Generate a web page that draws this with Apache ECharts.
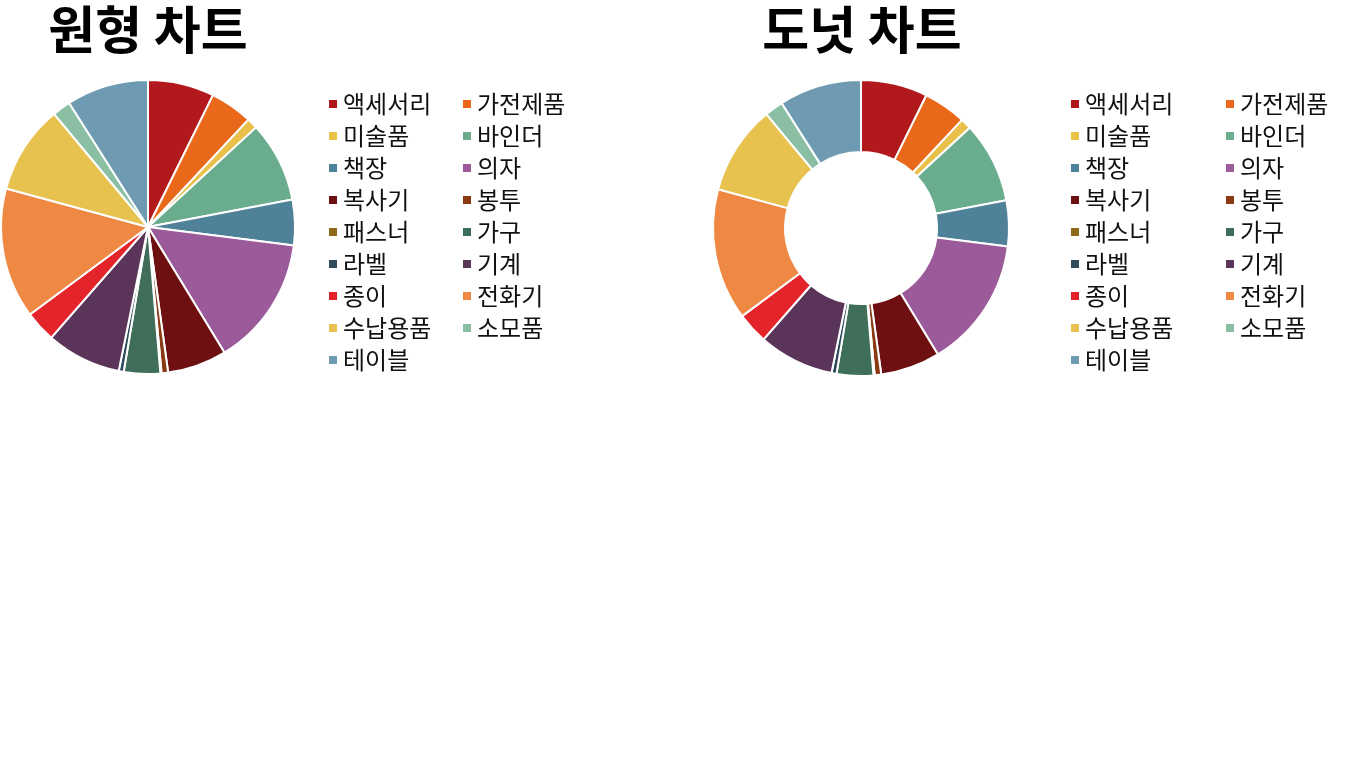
<!DOCTYPE html>
<html>
<head>
<meta charset="utf-8">
<title>원형 차트 / 도넛 차트</title>
<script src="https://cdn.jsdelivr.net/npm/echarts@6/dist/echarts.min.js"></script>
<style>
  html, body { margin: 0; padding: 0; background: #fff; }
  #chart { width: 1360px; height: 784px; }
</style>
</head>
<body>
<div id="chart"></div>
<script>
// 하위 카테고리 (시계 방향, 12시부터)
var categories = ['액세서리', '가전제품', '미술품', '바인더', '책장', '의자', '복사기', '봉투', '패스너',
  '가구', '라벨', '기계', '종이', '전화기', '수납용품', '소모품', '테이블'];
// 매출 값 (그림에서 읽은 비율)
var sales = [167380, 107532, 27119, 203413, 114880, 328449, 149528, 16476, 3024,
  91705, 12486, 189239, 78479, 330007, 223844, 46674, 206966];
var colors = ['#B2191C', '#E9681A', '#E8C04A', '#6AAD8E', '#4F8199', '#9B5B9A', '#6E1011', '#8A3A12', '#8A6A14',
  '#3F6E5A', '#2E4A5C', '#5A3459', '#E3242B', '#EE8842', '#E8C24E', '#8BBFA3', '#6F9BB2'];

var pieData = categories.map(function (name, i) {
  return { name: name, value: sales[i], itemStyle: { color: colors[i] } };
});

// 범례는 두 열(짝수/홀수)로 나눔
var colA = categories.filter(function (c, i) { return i % 2 === 0; });
var colB = categories.filter(function (c, i) { return i % 2 === 1; });

function makeLegend(names, left) {
  return {
    orient: 'vertical',
    left: left,
    top: 87,
    itemWidth: 10,
    itemHeight: 10,
    itemGap: 8,
    icon: 'rect',
    data: names,
    selectedMode: false,
    textStyle: { fontSize: 24, color: '#111', fontFamily: 'Noto Sans CJK KR' }
  };
}

var chart = echarts.init(document.getElementById('chart'));
chart.setOption({
  animation: false,
  textStyle: { fontFamily: 'Noto Sans CJK KR' },
  title: [
    { text: '원형 차트', left: 143, top: -1, textAlign: 'center',
      textStyle: { fontSize: 51, fontWeight: 'bold', color: '#000', fontFamily: 'Noto Sans CJK KR' } },
    { text: '도넛 차트', left: 857, top: -1, textAlign: 'center',
      textStyle: { fontSize: 51, fontWeight: 'bold', color: '#000', fontFamily: 'Noto Sans CJK KR' } }
  ],
  legend: [
    makeLegend(colA, 322),
    makeLegend(colB, 456),
    makeLegend(colA, 1064),
    makeLegend(colB, 1219)
  ],
  series: [
    {
      name: '원형 차트',
      type: 'pie',
      center: [148, 227],
      radius: [0, 147],
      startAngle: 90,
      clockwise: true,
      label: { show: false },
      labelLine: { show: false },
      itemStyle: { borderColor: '#fff', borderWidth: 2 },
      data: pieData
    },
    {
      name: '도넛 차트',
      type: 'pie',
      center: [861, 228],
      radius: [76, 148],
      startAngle: 90,
      clockwise: true,
      label: { show: false },
      labelLine: { show: false },
      itemStyle: { borderColor: '#fff', borderWidth: 2 },
      data: pieData
    }
  ]
});
</script>
</body>
</html>
